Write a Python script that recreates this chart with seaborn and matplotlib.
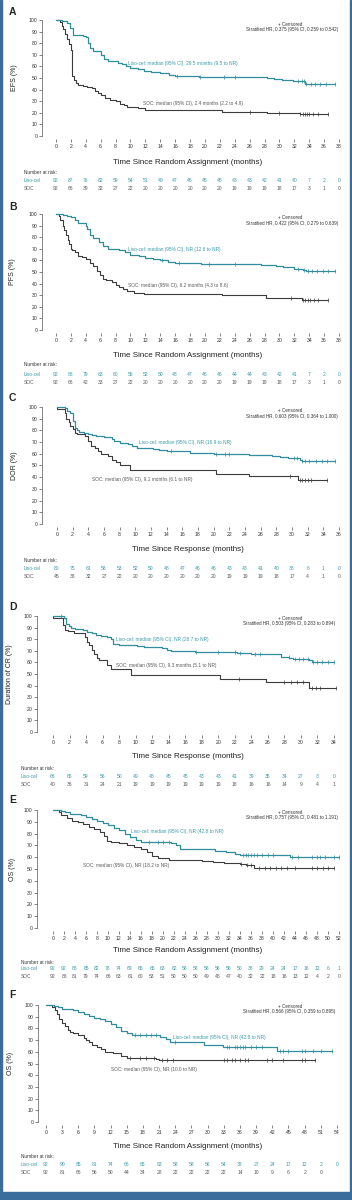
import numpy as np
import matplotlib
matplotlib.use("Agg")
import matplotlib.pyplot as plt
import matplotlib.transforms as mtransforms
from matplotlib.patches import Rectangle
import seaborn as sns

sns.set_theme(style="ticks")
plt.rcParams['font.family'] = ['Liberation Sans', 'DejaVu Sans']

W, H = 352, 1200
TEAL = '#2f8d9c'
TEAL_TXT = '#3a9aab'
GRAY = '#3c3c3c'
GRAY_TXT = '#5a5a5a'
FRAME = '#3b6d9c'

# ---- panel A: EFS ----
a_liso_t = [0, 0.8, 1.5, 1.9, 2.3, 3.6, 4.0, 4.3, 4.6, 5.0, 6.0, 6.5, 7.0, 8.3, 8.8, 9.4, 10.0, 11.0,
            11.8, 12.8, 14.0, 15.2, 16.0, 19.2, 28.3, 29.3, 30.3, 31.8, 33.4]
a_liso_s = [100, 99, 97, 93, 87, 86, 85, 80, 76, 73, 70, 66, 65, 63, 62, 60, 59, 58,
            56, 55, 54, 53, 52, 51, 50, 49, 48, 47, 45]
a_liso_cens = [16.3, 19.3, 22.5, 24.0, 32.5, 33.0, 33.3, 33.6, 34.2, 34.8, 35.5, 36.2, 37.5]
a_soc_t = [0, 0.6, 0.8, 1.0, 1.2, 1.5, 1.8, 2.0, 2.1, 2.2, 2.4, 2.7, 3.0, 3.6, 4.2, 4.8, 5.3, 5.7,
           6.1, 6.6, 7.2, 8.0, 8.6, 9.1, 9.6, 11.0, 11.9, 22.3, 28.3, 32.8]
a_soc_s = [100, 98, 95, 92, 88, 84, 79, 74, 62, 52, 48, 46, 44, 43, 42, 41, 39, 37,
           35, 33, 31, 30, 28, 27, 25, 24, 22, 21, 20, 19]
a_soc_cens = [26.0, 30.0, 32.8, 33.1, 33.4, 33.7, 34.0, 34.5, 35.2, 36.5]
a_ticks = list(range(0, 39, 2))
a_risk_liso = [92, 87, 76, 62, 59, 54, 51, 49, 47, 46, 45, 45, 43, 43, 42, 41, 40, 7, 2, 0]
a_risk_soc = [92, 66, 39, 32, 27, 22, 20, 20, 20, 20, 20, 20, 19, 19, 19, 18, 17, 3, 1, 0]

# ---- panel B: PFS ----
b_liso_t = [0, 1.0, 1.5, 2.0, 2.5, 3.0, 4.0, 4.2, 4.6, 5.0, 5.8, 6.3, 7.0, 8.5, 9.2, 10.0, 11.2, 12.0,
            13.0, 14.0, 15.0, 16.0, 19.5, 27.5, 29.5, 30.5, 32.0, 33.2, 33.6]
b_liso_s = [100, 99, 98, 97, 95, 92, 90, 87, 82, 79, 76, 72, 70, 69, 67, 65, 64, 62,
            61, 60, 59, 58, 57, 56, 55, 54, 53, 52, 51]
b_liso_cens = [14.2, 16.5, 20.5, 24.0, 32.5, 33.3, 33.8, 34.4, 35.0, 35.8, 36.5, 37.5]
b_soc_t = [0, 0.4, 0.6, 0.9, 1.1, 1.3, 1.6, 1.8, 2.0, 2.2, 2.6, 3.0, 3.5, 4.0, 4.5, 5.0, 5.5, 5.9,
           6.3, 6.7, 7.5, 8.0, 8.5, 9.0, 9.5, 10.5, 11.8, 22.3, 28.2, 33.0]
b_soc_s = [100, 98, 95, 90, 86, 82, 78, 74, 70, 69, 67, 64, 63, 61, 58, 55, 51, 47,
           44, 43, 41, 39, 37, 35, 34, 32, 31, 30, 28, 26]
b_soc_cens = [31.5, 33.2, 33.5, 33.8, 34.1, 34.6, 35.2, 36.5]
b_ticks = list(range(0, 39, 2))
b_risk_liso = [92, 88, 79, 63, 60, 55, 52, 50, 48, 47, 46, 46, 44, 44, 43, 42, 41, 7, 2, 0]
b_risk_soc = [92, 66, 42, 33, 27, 22, 20, 20, 20, 20, 20, 20, 19, 19, 19, 18, 17, 3, 1, 0]

# ---- panel C: DOR ----
c_liso_t = [0, 1.0, 1.3, 1.7, 2.1, 2.3, 2.5, 2.8, 3.5, 4.0, 4.5, 5.0, 6.0, 7.0, 7.3, 8.0, 9.0, 9.6,
            10.2, 12.2, 13.0, 14.0, 17.0, 20.0, 24.5, 27.5, 28.5, 29.5, 31.0, 31.3]
c_liso_s = [100, 99, 97, 95, 88, 82, 80, 79, 78, 77, 76, 75, 74, 73, 71, 69, 68, 67,
            65, 64, 63, 62, 61, 60, 59, 58, 57, 56, 55, 54]
c_liso_cens = [14.5, 20.3, 21.5, 22.0, 30.2, 30.6, 31.3, 31.6, 32.2, 33.0, 33.8, 34.5, 35.5]
c_soc_t = [0, 0.05, 1.0, 1.2, 1.5, 1.7, 2.0, 2.3, 2.5, 3.6, 4.0, 4.3, 4.8, 5.2, 5.6, 6.5, 7.0, 7.5,
           8.0, 9.3, 20.3, 24.5, 30.8]
c_soc_s = [100, 98, 95, 90, 87, 84, 81, 78, 77, 75, 71, 67, 65, 62, 60, 58, 55, 53,
           50, 46, 43, 41, 38]
c_soc_cens = [29.8, 31.0, 31.3, 31.6, 32.0, 32.4, 34.5]
c_ticks = list(range(0, 37, 2))
c_risk_liso = [80, 75, 61, 58, 53, 52, 50, 48, 47, 46, 46, 43, 43, 41, 40, 38, 6, 1, 0]
c_risk_soc = [45, 38, 32, 27, 22, 20, 20, 20, 20, 20, 20, 19, 19, 19, 18, 17, 4, 1, 0]

# ---- panel D: duration of CR ----
d_liso_t = [0, 1.3, 1.6, 1.9, 2.2, 2.7, 3.6, 4.1, 4.7, 5.2, 5.8, 6.5, 7.0, 7.3, 8.0, 10.2, 11.0, 13.2,
            13.8, 14.3, 17.2, 22.3, 24.0, 27.6, 28.6, 29.0, 31.0, 31.3]
d_liso_s = [100, 98, 93, 91, 90, 89, 88, 86, 85, 84, 83, 82, 80, 76, 75, 74, 73, 72,
            71, 70, 69, 68, 67, 65, 64, 63, 62, 60]
d_liso_cens = [1.0, 17.3, 20.0, 22.0, 22.6, 24.5, 25.0, 28.5, 29.3, 29.8, 30.3, 30.8, 31.5, 32.0,
               32.6, 33.3, 34.0]
d_soc_t = [0, 0.05, 1.2, 1.5, 1.8, 2.6, 3.9, 4.1, 4.4, 4.7, 5.0, 5.3, 5.6, 6.5, 7.0, 9.4, 20.2, 25.8, 31.0]
d_soc_s = [100, 98, 92, 88, 87, 85, 82, 78, 75, 71, 67, 64, 62, 58, 54, 49, 46, 43, 38]
d_soc_cens = [22.5, 28.0, 28.8, 29.5, 30.2, 31.3, 31.8, 32.3, 34.2]
d_ticks = list(range(0, 35, 2))
d_risk_liso = [66, 65, 59, 56, 50, 49, 48, 45, 45, 43, 43, 41, 39, 35, 34, 27, 3, 0]
d_risk_soc = [40, 36, 31, 24, 21, 19, 19, 19, 19, 19, 19, 18, 16, 16, 14, 9, 4, 1]

# ---- panel E: OS ----
e_liso_t = [0, 1.5, 2.2, 3.0, 5.0, 6.0, 7.0, 8.0, 9.0, 10.0, 11.0, 12.0, 13.0, 14.0, 15.0, 16.0,
            21.5, 22.3, 23.0, 29.5, 31.5, 33.0, 34.0, 43.0]
e_liso_s = [100, 99, 98, 97, 96, 94, 92, 91, 89, 87, 85, 83, 80, 77, 75, 73,
            72, 70, 67, 65, 64, 63, 62, 60]
e_liso_cens = [17.5, 19.0, 20.0, 21.0, 34.5, 35.0, 35.5, 36.0, 36.5, 37.0, 38.0, 39.0, 40.0, 43.5,
               44.5, 47.0, 48.0, 48.5, 49.5, 51.0, 52.0]
e_soc_t = [0, 1.0, 1.5, 2.5, 3.5, 4.5, 5.5, 6.5, 7.5, 8.5, 9.3, 9.8, 10.5, 12.0, 13.5, 14.8, 16.0,
           17.0, 18.0, 19.0, 21.0, 27.0, 29.0, 31.0, 34.0, 35.0, 36.5]
e_soc_s = [100, 98, 96, 93, 91, 90, 88, 86, 84, 81, 78, 74, 73, 72, 70, 69, 67,
           64, 61, 59, 58, 57, 56, 55, 54, 53, 51]
e_soc_cens = [34.2, 35.3, 36.0, 37.5, 38.5, 39.5, 40.5, 41.5, 42.5, 44.0, 47.0, 48.0, 49.0, 50.0, 51.0]
e_ticks = list(range(0, 53, 2))
e_risk_liso = [92, 92, 88, 85, 82, 78, 74, 69, 65, 65, 63, 62, 58, 58, 58, 56, 56, 50, 38, 29, 24,
               24, 17, 16, 12, 6, 1]
e_risk_soc = [92, 88, 81, 79, 74, 66, 63, 61, 60, 53, 51, 50, 50, 50, 49, 48, 47, 40, 32, 22, 18,
              16, 13, 12, 4, 2, 0]

# ---- panel F: OS ----
f_liso_t = [0, 1.5, 2.2, 3.0, 5.0, 6.0, 7.0, 8.0, 9.0, 10.0, 11.0, 12.0, 13.0, 14.0, 15.0, 16.0,
            21.2, 22.3, 23.0, 29.4, 32.8, 42.8]
f_liso_s = [100, 99, 98, 97, 96, 94, 92, 91, 89, 88, 86, 84, 81, 78, 76, 74,
            73, 71, 68, 66, 64, 61]
f_liso_cens = [16.5, 17.5, 18.5, 19.5, 20.5, 24.0, 33.5, 34.0, 35.0, 35.5, 36.0, 36.5, 37.0, 38.0,
               39.0, 40.0, 43.5, 44.0, 45.0, 47.5, 48.0, 49.5, 51.0, 53.0]
f_soc_t = [0, 1.2, 1.6, 2.0, 2.5, 3.0, 3.5, 4.0, 4.5, 5.0, 6.0, 7.0, 7.5, 8.0, 8.5, 9.5, 10.2, 11.0,
           12.5, 14.0, 15.0, 20.5, 21.0]
f_soc_s = [100, 98, 96, 92, 88, 85, 82, 79, 77, 76, 74, 72, 70, 68, 66, 64, 62, 60,
           59, 56, 55, 54, 53]
f_soc_cens = [15.5, 17.5, 18.5, 20.0, 21.5, 22.5, 23.5, 33.0, 33.5, 34.5, 35.0, 36.0, 37.0, 37.5,
              41.0, 42.0, 44.0, 47.5, 48.0, 50.0]
f_ticks = list(range(0, 55, 3))
f_risk_liso = [92, 90, 85, 81, 74, 66, 65, 63, 58, 58, 56, 54, 38, 27, 24, 17, 12, 2, 0]
f_risk_soc = [92, 81, 66, 56, 50, 44, 34, 28, 22, 22, 22, 22, 14, 10, 9, 6, 2, 0]

panels = [
    dict(letter='A', ylabel='EFS (%)', xlabel='Time Since Random Assignment (months)',
         liso=(a_liso_t, a_liso_s, a_liso_cens, 37.5), soc=(a_soc_t, a_soc_s, a_soc_cens, 36.5),
         ticks=a_ticks, rl=a_risk_liso, rs=a_risk_soc,
         hr='Stratified HR, 0.375 (95% CI, 0.259 to 0.542)',
         ll='Liso-cel: median (95% CI), 29.5 months (9.5 to NR)',
         sl='SOC: median (95% CI), 2.4 months (2.2 to 4.9)',
         px=dict(x0=56, x1=339, y100=20, y0=136, spx=42, ylx=15, xl=162, nar=172, rliso=180, rsoc=188,
                 let=12, cen=24, hry=30, hrx=338, llx=128, lly=63, slx=143, sly=103, rowx=24)),
    dict(letter='B', ylabel='PFS (%)', xlabel='Time Since Random Assignment (months)',
         liso=(b_liso_t, b_liso_s, b_liso_cens, 37.5), soc=(b_soc_t, b_soc_s, b_soc_cens, 36.5),
         ticks=b_ticks, rl=b_risk_liso, rs=b_risk_soc,
         hr='Stratified HR, 0.422 (95% CI, 0.279 to 0.639)',
         ll='Liso-cel: median (95% CI), NR (12.6 to NR)',
         sl='SOC: median (95% CI), 6.2 months (4.3 to 8.6)',
         px=dict(x0=56, x1=339, y100=214, y0=330, spx=42, ylx=13, xl=355, nar=365, rliso=374, rsoc=382,
                 let=207, cen=217, hry=223, hrx=338, llx=128, lly=249, slx=128, sly=286, rowx=24)),
    dict(letter='C', ylabel='DOR (%)', xlabel='Time Since Response (months)',
         liso=(c_liso_t, c_liso_s, c_liso_cens, 35.5), soc=(c_soc_t, c_soc_s, c_soc_cens, 34.5),
         ticks=c_ticks, rl=c_risk_liso, rs=c_risk_soc,
         hr='Stratified HR, 0.603 (95% CI, 0.364 to 1.000)',
         ll='Liso-cel: median (95% CI), NR (16.9 to NR)',
         sl='SOC: median (95% CI), 9.1 months (6.1 to NR)',
         px=dict(x0=57, x1=339, y100=407, y0=524, spx=42, ylx=14, xl=550, nar=561, rliso=569, rsoc=577,
                 let=398, cen=411, hry=417, hrx=338, llx=139, lly=442, slx=92, sly=479, rowx=24)),
    dict(letter='D', ylabel='Duration of CR (%)', xlabel='Time Since Response (months)',
         liso=(d_liso_t, d_liso_s, d_liso_cens, 34.0), soc=(d_soc_t, d_soc_s, d_soc_cens, 34.2),
         ticks=d_ticks, rl=d_risk_liso, rs=d_risk_soc,
         hr='Stratified HR, 0.503 (95% CI, 0.283 to 0.894)',
         ll='Liso-cel: median (95% CI), NR (28.7 to NR)',
         sl='SOC: median (95% CI), 9.3 months (5.1 to NR)',
         px=dict(x0=53, x1=334, y100=616, y0=732, spx=37, ylx=10, xl=757, nar=768, rliso=776, rsoc=784,
                 let=607, cen=619, hry=624, hrx=335, llx=116, lly=639, slx=116, sly=665, rowx=21)),
    dict(letter='E', ylabel='OS (%)', xlabel='Time Since Random Assignment (months)',
         liso=(e_liso_t, e_liso_s, e_liso_cens, 52.0), soc=(e_soc_t, e_soc_s, e_soc_cens, 51.0),
         ticks=e_ticks, rl=e_risk_liso, rs=e_risk_soc,
         hr='Stratified HR, 0.757 (95% CI, 0.481 to 1.191)',
         ll='Liso-cel: median (95% CI), NR (42.8 to NR)',
         sl='SOC: median (95% CI), NR (18.2 to NR)',
         px=dict(x0=53, x1=339, y100=810, y0=928, spx=37, ylx=12, xl=951, nar=962, rliso=969, rsoc=977,
                 let=800, cen=813, hry=818, hrx=338, llx=131, lly=832, slx=83, sly=865, rowx=21)),
    dict(letter='F', ylabel='OS (%)', xlabel='Time Since Random Assignment (months)',
         liso=(f_liso_t, f_liso_s, f_liso_cens, 53.0), soc=(f_soc_t, f_soc_s, f_soc_cens, 50.0),
         ticks=f_ticks, rl=f_risk_liso, rs=f_risk_soc,
         hr='Stratified HR, 0.566 (95% CI, 0.359 to 0.895)',
         ll='Liso-cel: median (95% CI), NR (42.8 to NR)',
         sl='SOC: median (95% CI), NR (10.0 to NR)',
         px=dict(x0=46, x1=337, y100=1005, y0=1122, spx=38, ylx=10, xl=1146, nar=1157, rliso=1165, rsoc=1173,
                 let=995, cen=1006, hry=1012, hrx=335, llx=173, lly=1038, slx=111, sly=1069, rowx=21)),
]


def fy(y):
    return 1 - y / H


def draw_curve(ax, t, s, cens, end, color, lw):
    xs = list(t) + [end]
    ys = list(s) + [s[-1]]
    sns.lineplot(x=xs, y=ys, ax=ax, color=color, lw=lw, drawstyle='steps-post',
                 estimator=None, sort=False, clip_on=False)
    # censor ticks sit on the step curve
    idx = np.searchsorted(t, cens, side='right') - 1
    cy = np.array(s)[idx]
    ax.plot(cens, cy, ls='none', marker='|', ms=2.6, mew=0.5, color=color, clip_on=False)


fig = plt.figure(figsize=(W / 100, H / 100), dpi=100)
fig.patch.set_facecolor('white')

for p in panels:
    q = p['px']
    ax = fig.add_axes([q['x0'] / W, fy(q['y0']), (q['x1'] - q['x0']) / W, (q['y0'] - q['y100']) / H])
    ax.set_facecolor('none')
    draw_curve(ax, *p['soc'], GRAY, 0.8)
    draw_curve(ax, *p['liso'], TEAL, 0.9)
    ax.set_xlim(0, p['ticks'][-1])
    ax.set_ylim(0, 100)
    ax.set_xticks(p['ticks'])
    ax.set_yticks(range(0, 101, 10))
    ax.set_xlabel('')
    ax.set_ylabel('')
    for side in ['top', 'right']:
        ax.spines[side].set_visible(False)
    ax.spines['left'].set_position(('outward', (q['x0'] - q['spx']) * 0.72))
    ax.spines['left'].set_bounds(0, 100)
    ax.spines['left'].set_linewidth(0.5)
    ax.spines['left'].set_color('#555555')
    ax.spines['bottom'].set_position(('outward', 2.2))
    ax.spines['bottom'].set_color('none')
    ax.tick_params(axis='both', length=2.2, width=0.5, labelsize=3.7, pad=1.2,
                   color='#555555', labelcolor='#333333')

    fig.text(9 / W, fy(q['let']), p['letter'], fontsize=7.5, fontweight='bold', va='center', ha='left')
    fig.text(q['ylx'] / W, fy((q['y0'] + q['y100']) / 2), p['ylabel'], rotation=90,
             fontsize=5, va='center', ha='center', color='#222222')
    fig.text(188 / W, fy(q['xl']), p['xlabel'], fontsize=5.8, va='center', ha='center', color='#222222')

    fig.text(290 / W, fy(q['cen']), '+ Censored', fontsize=3.3, ha='center', va='center', color='#333333')
    fig.text(q['hrx'] / W, fy(q['hry']), p['hr'], fontsize=3.3, ha='right', va='center', color='#333333')
    fig.text(q['llx'] / W, fy(q['lly']), p['ll'], fontsize=3.4, ha='left', va='center', color=TEAL_TXT)
    fig.text(q['slx'] / W, fy(q['sly']), p['sl'], fontsize=3.4, ha='left', va='center', color=GRAY_TXT)

    # number-at-risk table under each tick
    trans = mtransforms.blended_transform_factory(ax.transData, fig.transFigure)
    fig.text(q['rowx'] / W, fy(q['nar']), 'Number at risk:', fontsize=3.4, ha='left', va='center',
             color='#333333')
    fig.text(q['rowx'] / W, fy(q['rliso']), 'Liso-cel', fontsize=3.5, ha='left', va='center', color=TEAL_TXT)
    fig.text(q['rowx'] / W, fy(q['rsoc']), 'SOC', fontsize=3.5, ha='left', va='center', color=GRAY_TXT)
    for x, v in zip(p['ticks'], p['rl']):
        ax.text(x, fy(q['rliso']), str(v), transform=trans, fontsize=3.6, ha='center', va='center',
                color=TEAL_TXT)
    for x, v in zip(p['ticks'], p['rs']):
        ax.text(x, fy(q['rsoc']), str(v), transform=trans, fontsize=3.6, ha='center', va='center',
                color=GRAY_TXT)

# frame strips
fig.patches.append(Rectangle((0, 0), 2 / W, 1, transform=fig.transFigure, color=FRAME, zorder=0))
fig.patches.append(Rectangle((1 - 2 / W, 0), 2 / W, 1, transform=fig.transFigure, color=FRAME, zorder=0))
fig.patches.append(Rectangle((0, 0), 1, 8 / H, transform=fig.transFigure, color=FRAME, zorder=0))

fig.savefig('out.png', dpi=100)
